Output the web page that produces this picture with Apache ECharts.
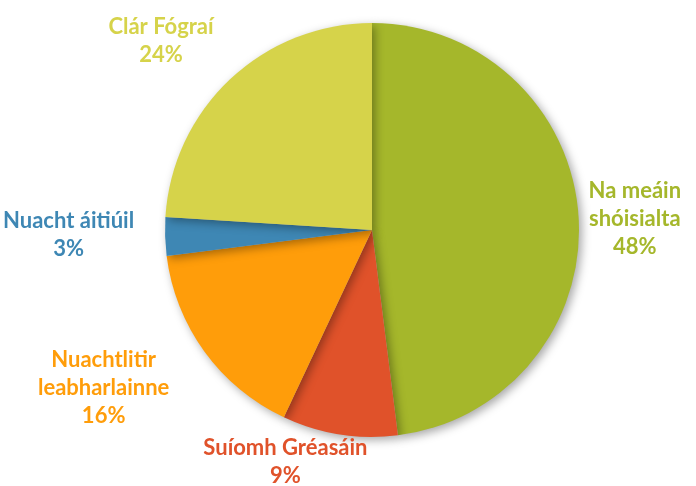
<!DOCTYPE html>
<html>
<head>
<meta charset="utf-8">
<script src="https://cdn.jsdelivr.net/npm/echarts@6/dist/echarts.min.js"></script>
<style>
  html, body { margin: 0; padding: 0; background: #fff; }
  #main { width: 696px; height: 486px; }
</style>
</head>
<body>
<div id="main"></div>
<script>
// data, clockwise from the top
var names = ['Na meáin\nshóisialta', 'Suíomh Gréasáin', 'Nuachtlitir\nleabharlainne', 'Nuacht áitiúil', 'Clár Fógraí'];
var values = [48, 9, 16, 3, 24];
var colors = ['#a5b72b', '#e0522a', '#ff9d0a', '#3e87b4', '#d6d34a'];
// nudge each label from echarts' own outside spot to where the original had it
var labelShift = [[-15, 3], [36, 8], [-14, 24], [-6, -2], [2, -24]];

var myChart = echarts.init(document.getElementById('main'));

var option = {
    backgroundColor: '#fff',
    animation: false,
    series: [{
        type: 'pie',
        center: [372, 230],
        radius: [0, 207],
        startAngle: 90,
        clockwise: true,
        itemStyle: {
            shadowBlur: 10,
            shadowOffsetX: 3,
            shadowOffsetY: 3,
            shadowColor: 'rgba(0,0,0,0.35)'
        },
        label: {
            show: true,
            position: 'outside',
            formatter: '{b}\n{d}%',
            fontFamily: 'Lato',
            fontWeight: 'bold',
            fontSize: 22,
            lineHeight: 28,
            overflow: 'none',
            color: 'inherit'
        },
        labelLine: { show: false, length: 20, length2: 0 },
        // centre the multi-line labels like the original
        labelLayout: function (p) {
            var r = p.labelRect;
            var s = labelShift[p.dataIndex];
            return {
                x: r.x + r.width / 2 + s[0],
                y: r.y + r.height / 2 + s[1],
                align: 'center',
                verticalAlign: 'middle'
            };
        },
        data: names.map(function (n, i) {
            return {
                name: n,
                value: values[i],
                itemStyle: { color: colors[i] },
                label: { color: colors[i] }
            };
        })
    }]
};
myChart.setOption(option);
</script>
</body>
</html>
